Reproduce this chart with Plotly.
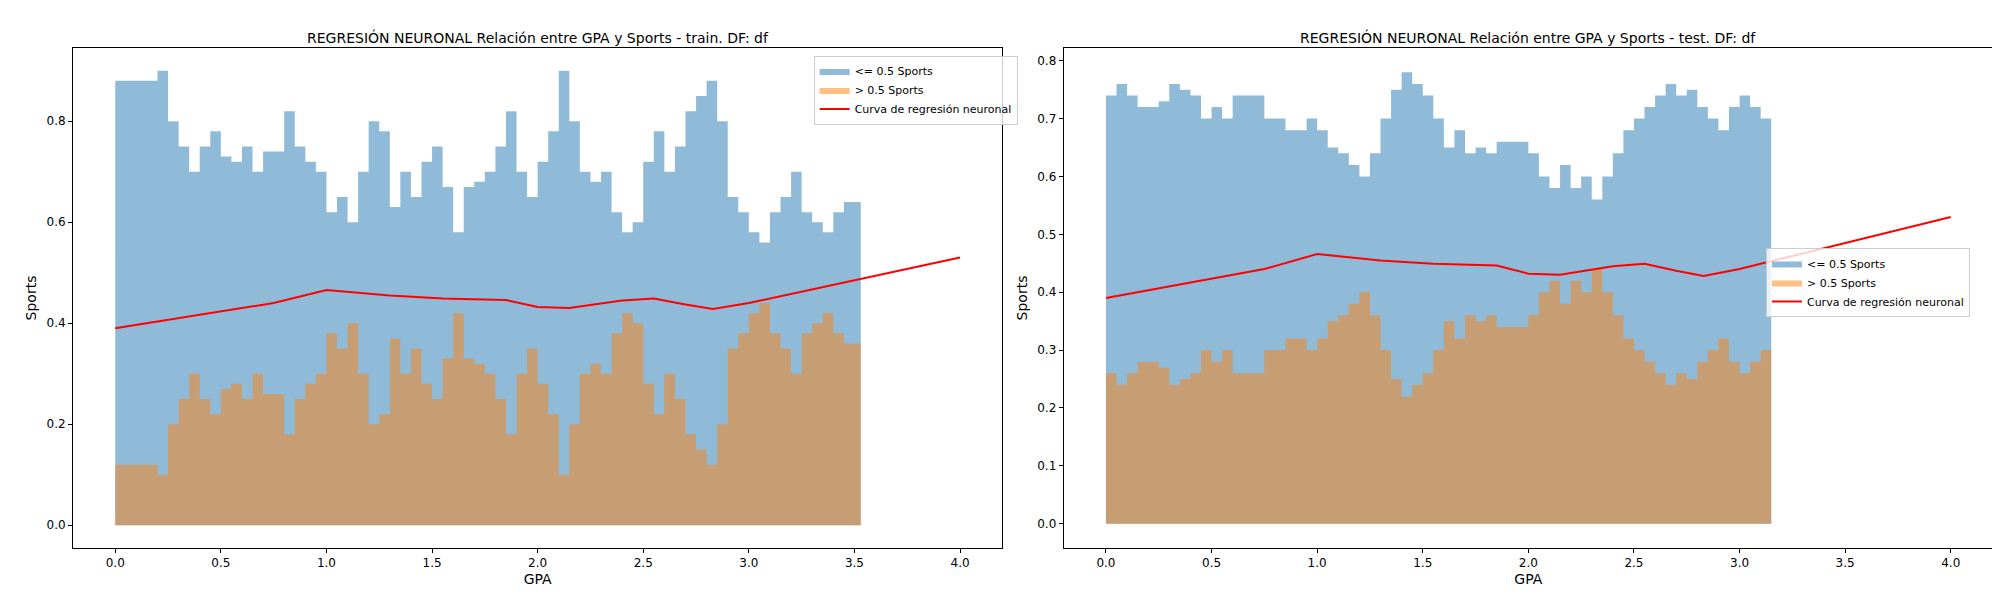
import plotly.graph_objects as go
from plotly.subplots import make_subplots

train_gpa = [round(0.05 * i, 2) for i in range(71)] + [3.53]
train_low = [0.88, 0.88, 0.88, 0.88, 0.90, 0.80, 0.75, 0.70, 0.75, 0.78, 0.73, 0.72, 0.75, 0.70, 0.74, 0.74, 0.82, 0.75, 0.72, 0.70,
             0.62, 0.65, 0.60, 0.70, 0.80, 0.78, 0.63, 0.70, 0.65, 0.72, 0.75, 0.67, 0.58, 0.67, 0.68, 0.70, 0.75, 0.82, 0.70, 0.65,
             0.72, 0.78, 0.90, 0.80, 0.70, 0.68, 0.70, 0.62, 0.58, 0.60, 0.72, 0.78, 0.70, 0.75, 0.82, 0.85, 0.88, 0.80, 0.65, 0.62,
             0.58, 0.56, 0.62, 0.65, 0.70, 0.62, 0.60, 0.58, 0.62, 0.64, 0.64, 0.64]
train_high = [0.12, 0.12, 0.12, 0.12, 0.10, 0.20, 0.25, 0.30, 0.25, 0.22, 0.27, 0.28, 0.25, 0.30, 0.26, 0.26, 0.18, 0.25, 0.28, 0.30,
              0.38, 0.35, 0.40, 0.30, 0.20, 0.22, 0.37, 0.30, 0.35, 0.28, 0.25, 0.33, 0.42, 0.33, 0.32, 0.30, 0.25, 0.18, 0.30, 0.35,
              0.28, 0.22, 0.10, 0.20, 0.30, 0.32, 0.30, 0.38, 0.42, 0.40, 0.28, 0.22, 0.30, 0.25, 0.18, 0.15, 0.12, 0.20, 0.35, 0.38,
              0.42, 0.44, 0.38, 0.35, 0.30, 0.38, 0.40, 0.42, 0.38, 0.36, 0.36, 0.36]

test_gpa = [round(0.05 * i, 2) for i in range(64)]
test_low = [0.74, 0.76, 0.74, 0.72, 0.72, 0.73, 0.76, 0.75, 0.74, 0.70, 0.72, 0.70, 0.74, 0.74, 0.74, 0.70, 0.70, 0.68, 0.68, 0.70,
            0.68, 0.65, 0.64, 0.62, 0.60, 0.64, 0.70, 0.75, 0.78, 0.76, 0.74, 0.70, 0.65, 0.68, 0.64, 0.65, 0.64, 0.66, 0.66, 0.66,
            0.64, 0.60, 0.58, 0.62, 0.58, 0.60, 0.56, 0.60, 0.64, 0.68, 0.70, 0.72, 0.74, 0.76, 0.74, 0.75, 0.72, 0.70, 0.68, 0.72,
            0.74, 0.72, 0.70, 0.68]
test_high = [0.26, 0.24, 0.26, 0.28, 0.28, 0.27, 0.24, 0.25, 0.26, 0.30, 0.28, 0.30, 0.26, 0.26, 0.26, 0.30, 0.30, 0.32, 0.32, 0.30,
             0.32, 0.35, 0.36, 0.38, 0.40, 0.36, 0.30, 0.25, 0.22, 0.24, 0.26, 0.30, 0.35, 0.32, 0.36, 0.35, 0.36, 0.34, 0.34, 0.34,
             0.36, 0.40, 0.42, 0.38, 0.42, 0.40, 0.44, 0.40, 0.36, 0.32, 0.30, 0.28, 0.26, 0.24, 0.26, 0.25, 0.28, 0.30, 0.32, 0.28,
             0.26, 0.28, 0.30, 0.32]

curve_x = [0.0, 0.75, 1.0, 1.3, 1.55, 1.85, 2.0, 2.15, 2.4, 2.55, 2.7, 2.83, 3.0, 4.0]
curve_y = [0.39, 0.44, 0.466, 0.455, 0.449, 0.446, 0.432, 0.43, 0.445, 0.449, 0.437, 0.428, 0.44, 0.53]

fig = make_subplots(rows=1, cols=2, horizontal_spacing=0.032,
                    subplot_titles=["REGRESIÓN NEURONAL Relación entre GPA y Sports - train. DF: df",
                                    "REGRESIÓN NEURONAL Relación entre GPA y Sports - test. DF: df"])

panels = [(train_gpa, train_low, train_high, "legend"), (test_gpa, test_low, test_high, "legend2")]
for col, (gx, lo, hi, leg) in enumerate(panels, start=1):
    fig.add_trace(go.Scatter(x=gx, y=lo, mode="lines", line=dict(width=0, shape="hv"), fill="tozeroy",
                             fillcolor="rgba(31,119,180,0.5)", name="<= 0.5 Sports", legend=leg), row=1, col=col)
    fig.add_trace(go.Scatter(x=gx, y=hi, mode="lines", line=dict(width=0, shape="hv"), fill="tozeroy",
                             fillcolor="rgba(255,127,14,0.5)", name="> 0.5 Sports", legend=leg), row=1, col=col)
    fig.add_trace(go.Scatter(x=curve_x, y=curve_y, mode="lines", line=dict(color="red", width=2),
                             name="Curva de regresión neuronal", legend=leg), row=1, col=col)

axis = dict(showgrid=False, zeroline=False, showline=True, mirror=True, linecolor="black",
            ticks="outside", tickcolor="black", ticklen=4)
fig.update_xaxes(**axis, range=[-0.2, 4.2], tickvals=[0, 0.5, 1, 1.5, 2, 2.5, 3, 3.5, 4],
                 ticktext=["0.0", "0.5", "1.0", "1.5", "2.0", "2.5", "3.0", "3.5", "4.0"],
                 title=dict(text="GPA", standoff=4))
fig.update_yaxes(**axis, title=dict(text="Sports", standoff=6))
fig.update_yaxes(range=[-0.045, 0.945], tickvals=[0, 0.2, 0.4, 0.6, 0.8], tickformat=".1f", row=1, col=1)
fig.update_yaxes(range=[-0.042, 0.822], dtick=0.1, tickformat=".1f", row=1, col=2)

leg_style = dict(bgcolor="rgba(255,255,255,0.8)", bordercolor="#cccccc", borderwidth=1,
                 font=dict(size=11), xanchor="right", tracegroupgap=0)
fig.update_layout(
    width=2000, height=600, plot_bgcolor="white", paper_bgcolor="white",
    font=dict(family="DejaVu Sans", size=12, color="black"),
    margin=dict(l=65, r=15, t=40, b=60),
    legend=dict(**leg_style, x=0.492, y=0.985, yanchor="top"),
    legend2=dict(**leg_style, x=0.988, y=0.6, yanchor="top"),
)
for a in fig.layout.annotations:
    a.font = dict(size=14, family="DejaVu Sans")

fig.write_html("out.html")
